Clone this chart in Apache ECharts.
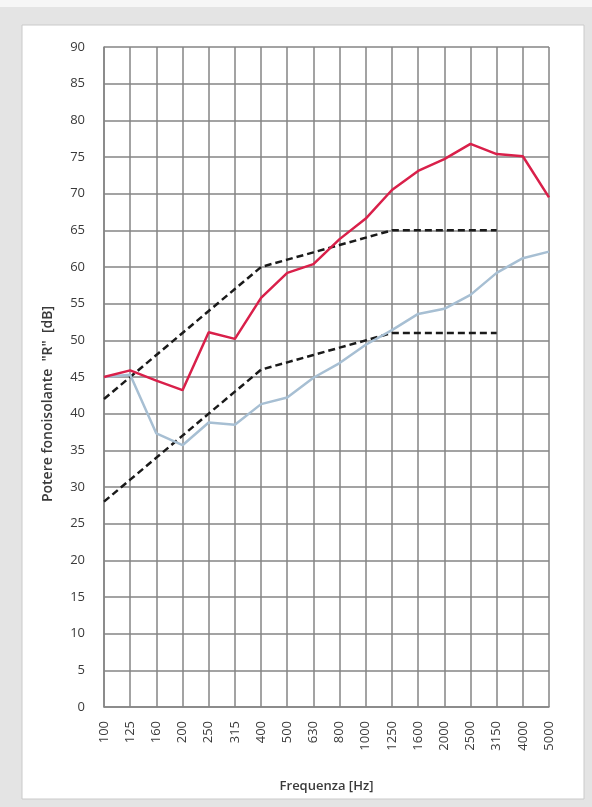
<!DOCTYPE html>
<html>
<head>
<meta charset="utf-8">
<script src="https://cdn.jsdelivr.net/npm/echarts@6/dist/echarts.min.js"></script>
<style>
  html, body { margin: 0; padding: 0; background: #e4e4e4; }
  #chart { width: 592px; height: 807px; }
</style>
</head>
<body>
<div id="chart"></div>
<script>
const frequencies = ['100', '125', '160', '200', '250', '315', '400', '500', '630', '800',
  '1000', '1250', '1600', '2000', '2500', '3150', '4000', '5000']

// misure
const redValues = [45, 45.9, 44.5, 43.2, 51.1, 50.2, 55.8, 59.2, 60.4, 63.8,
  66.6, 70.5, 73.1, 74.7, 76.8, 75.4, 75.1, 69.5]
const blueValues = [45, 45.3, 37.3, 35.7, 38.8, 38.5, 41.3, 42.2, 44.9, 46.9,
  49.4, 51.4, 53.6, 54.3, 56.2, 59.2, 61.2, 62.1]

// curve di riferimento traslate (fino a 3150 Hz)
const upperRef = [42, 45, 48, 51, 54, 57, 60, 61, 62, 63, 64, 65, 65, 65, 65, 65]
const lowerRef = [28, 31, 34, 37, 40, 43, 46, 47, 48, 49, 50, 51, 51, 51, 51, 51]

const yTicks = { min: 0, max: 90, interval: 5 }

const fontFamily = '"Open Sans", "Liberation Sans", sans-serif'
const textColor = '#3a3a3a'
const gridColor = '#858585'

const myChart = echarts.init(document.getElementById('chart'))

const refSeries = (data) => ({
  type: 'line',
  data,
  symbol: 'none',
  silent: true,
  lineStyle: { color: '#1a1a1a', width: 2.5, type: [7, 4] },
})

myChart.setOption({
  animation: false,
  backgroundColor: 'transparent',
  graphic: [
    {
      type: 'rect',
      z: -10,
      shape: { x: 0, y: 0, width: 592, height: 7 },
      style: { fill: '#f6f6f6' },
    },
    {
      type: 'rect',
      z: -10,
      shape: { x: 22, y: 25, width: 562, height: 774 },
      style: { fill: '#ffffff', stroke: '#cacaca', lineWidth: 1 },
    },
    {
      type: 'text',
      x: 48,
      y: 404,
      rotation: Math.PI / 2,
      style: {
        text: 'Potere fonoisolante  "R"  [dB]',
        fill: textColor,
        font: '600 14px ' + fontFamily,
        align: 'center',
        verticalAlign: 'middle',
      },
    },
  ],
  grid: {
    left: 104,
    right: 43,
    top: 47,
    bottom: 100,
  },
  xAxis: {
    type: 'category',
    data: frequencies,
    boundaryGap: false,
    name: 'Frequenza [Hz]',
    nameLocation: 'middle',
    nameGap: 73,
    nameTextStyle: { color: textColor, fontFamily, fontSize: 13, fontWeight: 600 },
    axisLine: { show: true, lineStyle: { color: gridColor, width: 1.5 } },
    axisTick: { show: false },
    axisLabel: {
      rotate: 90,
      interval: 0,
      margin: 14,
      color: textColor,
      fontFamily,
      fontSize: 13,
    },
    splitLine: { show: true, lineStyle: { color: gridColor, width: 1.5 } },
  },
  yAxis: {
    type: 'value',
    min: yTicks.min,
    max: yTicks.max,
    interval: yTicks.interval,
    axisLine: { show: true, lineStyle: { color: gridColor, width: 1.5 } },
    axisTick: { show: false },
    axisLabel: {
      margin: 19,
      color: textColor,
      fontFamily,
      fontSize: 13,
    },
    splitLine: { show: true, lineStyle: { color: gridColor, width: 1.5 } },
  },
  series: [
    refSeries(upperRef),
    refSeries(lowerRef),
    {
      type: 'line',
      data: blueValues,
      symbol: 'none',
      lineStyle: { color: '#a7bfd3', width: 2.5 },
    },
    {
      type: 'line',
      data: redValues,
      symbol: 'none',
      lineStyle: { color: '#d9204a', width: 2.5 },
    },
  ],
})
</script>
</body>
</html>
